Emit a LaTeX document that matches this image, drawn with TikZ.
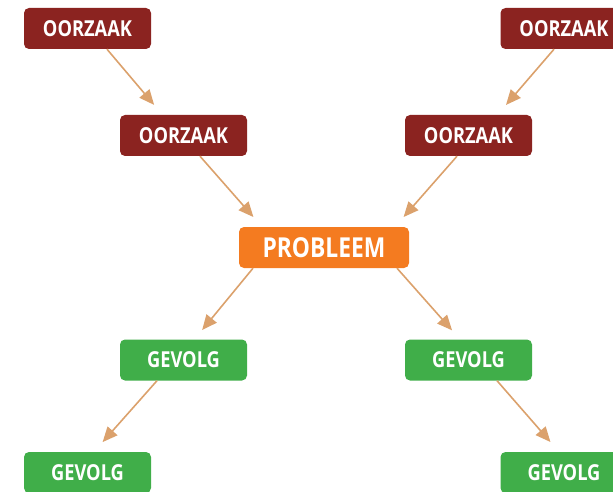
\documentclass[tikz,border=0pt]{standalone}
\usepackage{fontspec}
\usetikzlibrary{arrows.meta}
\newfontfamily\boxfont{Open Sans}[FakeStretch=0.83]
\definecolor{cause}{HTML}{8B2320}
\definecolor{prob}{HTML}{F47B20}
\definecolor{effect}{HTML}{40AE49}
\definecolor{arrowc}{HTML}{DBA16C}
\tikzset{
  box/.style={rectangle, rounded corners=5pt, minimum width=127pt, minimum height=41pt, inner sep=0pt, text=white, font=\boxfont\bfseries\fontsize{22}{24}\selectfont},
  causebox/.style={box, fill=cause},
  effectbox/.style={box, fill=effect},
  probbox/.style={box, fill=prob, minimum width=170pt, font=\boxfont\bfseries\fontsize{27.5}{30}\selectfont},
  conn/.style={draw=arrowc, line width=1.6pt, -{Triangle[length=15pt,width=13pt]}, shorten >=13pt}
}
\begin{document}
\begin{tikzpicture}[x=1pt,y=-1pt]
\useasboundingbox (0,0) rectangle (613,492);
\clip (0,0) rectangle (613,492);
\node[causebox] (c1) at (87.5,28.5) {OORZAAK};
\node[causebox] (c2) at (183.5,135.5) {OORZAAK};
\node[causebox] (c3) at (564,28.5) {OORZAAK};
\node[causebox] (c4) at (468.5,135.5) {OORZAAK};
\node[probbox] (p) at (324,247.5) {PROBLEEM};
\node[effectbox] (e1) at (183.5,360) {GEVOLG};
\node[effectbox] (e2) at (468.5,360) {GEVOLG};
\node[effectbox] (e3) at (87.5,472.5) {GEVOLG};
\node[effectbox] (e4) at (564,472.5) {GEVOLG};
\draw[conn] ([xshift=19.5pt]c1.south) -- ([xshift=-21pt]c2.north);
\draw[conn] ([xshift=-10pt]c3.south) -- ([xshift=29pt]c4.north);
\draw[conn] ([xshift=16.5pt]c2.south) -- ([xshift=-62pt]p.north);
\draw[conn] ([xshift=-11.5pt]c4.south) -- ([xshift=71pt]p.north);
\draw[conn, shorten >=12pt] ([xshift=-71pt]p.south) -- ([xshift=11pt]e1.north);
\draw[conn, shorten >=12pt] ([xshift=73pt]p.south) -- ([xshift=-8.5pt]e2.north);
\draw[conn] ([xshift=-26.5pt]e1.south) -- ([xshift=6.5pt]e3.north);
\draw[conn] ([xshift=28.5pt]e2.south) -- ([xshift=-5pt]e4.north);
\end{tikzpicture}
\end{document}
